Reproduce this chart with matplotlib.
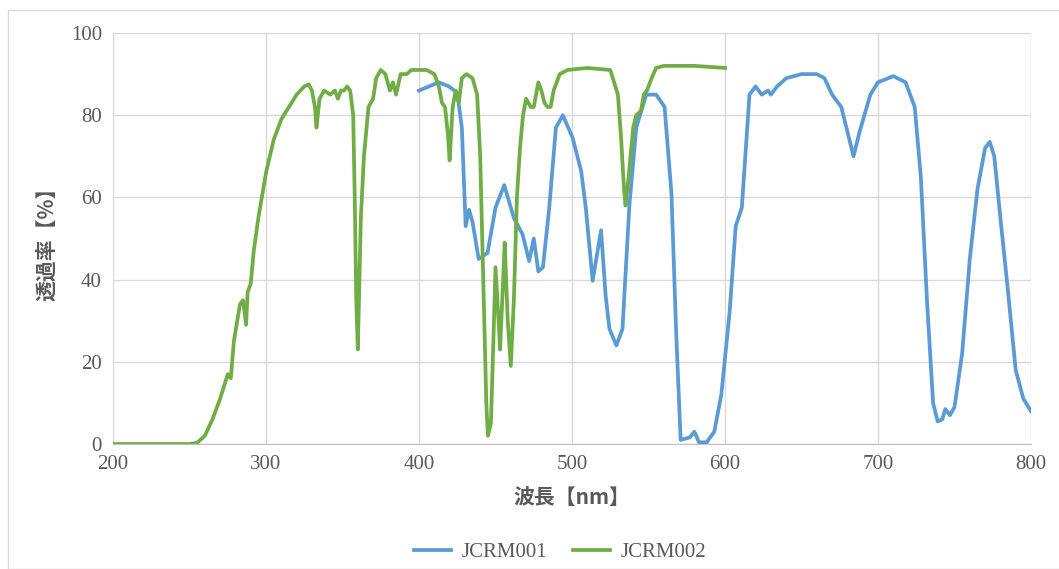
import matplotlib
matplotlib.use('Agg')
import matplotlib.pyplot as plt
from matplotlib.patches import Rectangle

# JCRM001 (blue)
wl1 = [400, 413, 419.6, 425, 428, 430.5, 432.7, 435, 439, 444.8, 450, 455.7, 462, 467.7, 472, 475, 478, 481,
       485, 489.5, 494, 500.4, 506, 509, 513.5, 519, 522, 524.5, 529, 533, 537.5, 542, 548.5, 555, 560.5,
       565, 568, 571, 577, 580, 583, 588, 593, 597.6, 603, 607, 611, 616, 620, 624, 628, 630, 634, 640,
       650, 660, 665, 670, 676, 680, 684, 688, 695, 700, 710, 718, 724, 728, 732, 736, 739, 742, 744, 747,
       750, 755, 760, 765, 770, 773, 776, 780, 785, 790, 795, 800]
tr1 = [86, 88, 87, 85.4, 77, 53, 57, 54, 45, 46.5, 57.5, 63, 55, 51, 44.5, 50, 42, 43,
       57, 77, 80, 74.5, 66.4, 57.5, 39.7, 52, 36, 28, 24, 28, 58, 77, 85, 85, 82,
       61, 28, 1, 1.6, 3, 0.4, 0.4, 3, 12, 32, 53, 57.5, 85, 87, 85, 86, 85, 87, 89,
       90, 90, 89, 85, 82, 76, 70, 76, 85, 88, 89.5, 88, 82, 65, 35, 10, 5.5, 6, 8.5, 7,
       9, 22, 45, 62, 72, 73.5, 70, 55, 37, 18, 11, 8]

# JCRM002 (green)
wl2 = [200, 250, 255, 260, 265, 270, 275, 277, 279, 283, 285, 287, 288, 290, 292, 295, 300, 305, 310, 315,
       320, 325, 328, 330, 332, 333, 335, 338, 342, 345, 347, 349, 351, 353, 355, 357, 358, 359, 360, 362,
       364, 367, 370, 372, 375, 378, 381, 383, 385, 388, 392, 395, 400, 405, 410, 413, 415, 417, 419, 420,
       422, 424, 426, 428, 431, 435, 438, 440, 442, 444, 445, 447, 449, 450, 452, 453, 455, 456, 458, 460,
       462, 464, 466, 468, 470, 473, 475, 478, 480, 482, 484, 486, 488, 492, 497, 510, 525, 530, 532, 534,
       535, 537, 540, 542, 545, 547, 549, 552, 555, 560, 580, 600]
tr2 = [0, 0, 0.3, 2, 6, 11, 17, 16, 25, 34, 35, 29, 37, 39, 47, 55, 66, 74, 79, 82,
       85, 87, 87.5, 86, 82, 77, 84, 86, 85, 86, 84, 86, 86, 87, 86, 80, 60, 35, 23, 55,
       70, 82, 84, 89, 91, 90, 86, 88, 85, 90, 90, 91, 91, 91, 90, 87, 83, 82, 75, 69,
       82, 86, 83, 89, 90, 89, 85, 70, 40, 10, 2, 5, 30, 43, 30, 23, 40, 49, 30, 19,
       35, 60, 72, 80, 84, 82, 82, 88, 86, 83, 82, 82, 86, 90, 91, 91.5, 91, 85, 75, 62,
       58, 65, 77, 80, 81, 85, 86, 89, 91.5, 92, 92, 91.5]

serif = ['Liberation Serif', 'DejaVu Serif']
cjk = ['Noto Sans CJK JP', 'DejaVu Sans']

fig = plt.figure(figsize=(10.59, 5.69), dpi=100)
fig.patches.append(Rectangle((8 / 1059, 0), 1.0, 1 - 10 / 569, transform=fig.transFigure,
                             fill=False, edgecolor='#d9d9d9', linewidth=1))
ax = fig.add_axes([113 / 1059, 1 - 444 / 569, 918 / 1059, 411 / 569])

ax.plot(wl1, tr1, color='#5b9bd5', linewidth=2.7, solid_joinstyle='round', label='JCRM001')
ax.plot(wl2, tr2, color='#70ad47', linewidth=2.7, solid_joinstyle='round', label='JCRM002')

ax.set_xlim(200, 800)
ax.set_ylim(0, 100)
ax.set_xticks(range(200, 801, 100))
ax.set_yticks(range(0, 101, 20))
ax.grid(True, color='#d9d9d9', linewidth=1)
ax.set_axisbelow(True)
for s in ax.spines.values():
    s.set_visible(False)
ax.spines['bottom'].set_visible(True)
ax.spines['bottom'].set_color('#bfbfbf')
ax.tick_params(length=0, labelsize=15, colors='#595959', pad=8)
for lab in ax.get_xticklabels() + ax.get_yticklabels():
    lab.set_family(serif)

ax.set_xlabel('波長【nm】', family=cjk, fontsize=15, fontweight='bold', color='#595959', labelpad=10)
ax.set_ylabel('透過率【%】', family=cjk, fontsize=15, fontweight='bold', color='#595959', labelpad=10)

leg = fig.legend(loc='center', bbox_to_anchor=(560 / 1059, 1 - 552 / 569), ncol=2, frameon=False,
                 prop={'family': serif, 'size': 15}, handlelength=1.8, handletextpad=0.5,
                 columnspacing=1.2)
for t in leg.get_texts():
    t.set_color('#595959')

fig.savefig('out.png', dpi=100)
